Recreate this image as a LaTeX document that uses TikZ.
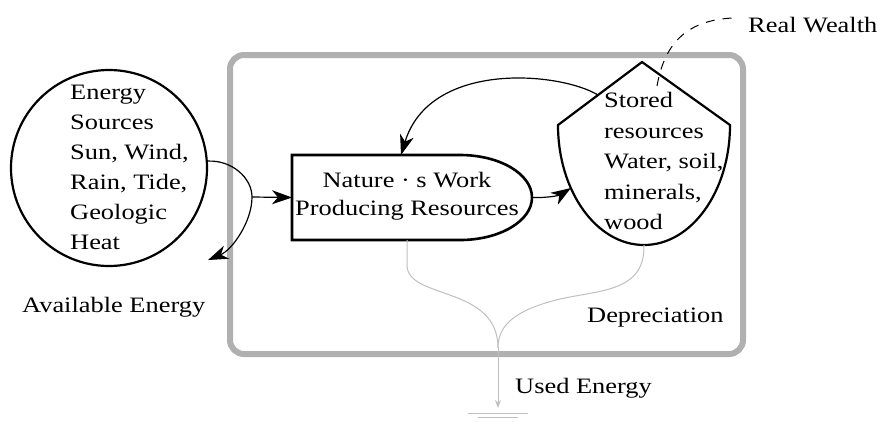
\documentclass[tikz,border=0pt]{standalone}
\usepackage{fontspec}
\setmainfont[FakeStretch=1.2]{Liberation Serif}
\usetikzlibrary{arrows.meta}
\begin{document}
\begin{tikzpicture}[x=1pt,y=-1pt,
  txt/.style={font=\fontsize{22}{30}\selectfont, inner sep=0pt},
  shapeline/.style={draw=black, line width=2.2pt},
  flow/.style={draw=black, line width=1.2pt, -{Stealth[length=20pt,width=14pt,inset=6pt]}},
  sinkflow/.style={draw=gray!50, line width=1pt},
  framebox/.style={draw=gray!62, line width=6pt, rounded corners=14pt, inner sep=0pt},
  holder/.style={inner sep=0pt, outer sep=0pt}
]
\useasboundingbox (0,0) rectangle (878,421);
% system frame
\node[framebox, minimum width=513pt, minimum height=299pt] (sys) at (486.5,204.5) {};
% energy source
\node[circle, shapeline, minimum size=196pt, inner sep=0pt] (src) at (109,168) {};
\node[txt, anchor=west, align=left] (srctxt) at (70,167) {Energy\\Sources\\Sun, Wind,\\Rain, Tide,\\Geologic\\Heat};
% producer
\node[holder, minimum width=240pt, minimum height=85pt] (work) at (412,197.5) {};
\draw[shapeline, line width=2.6pt] (292,155) -- (292,240) -- (460,240)
  arc[start angle=90, end angle=-90, x radius=72, y radius=42.5] -- cycle;
\node[txt, align=center, font=\fontsize{22}{28}\selectfont] (worktxt) at (407,196) {Nature · s Work\\Producing Resources};
% storage
\node[holder, minimum width=172pt, minimum height=183pt] (store) at (644,153.5) {};
\draw[shapeline] (558,125) -- (642,62) -- (730,125)
  arc[start angle=0, end angle=180, x radius=86, y radius=120] -- cycle;
\node[txt, anchor=west, align=left, font=\fontsize{22}{30.5}\selectfont] (storetxt) at (604,161) {Stored\\resources\\Water, soil,\\minerals,\\wood};
% labels
\node[txt, anchor=west] (avail) at (22,307) {Available Energy};
\node[txt, anchor=west] (wealth) at (748,25) {Real Wealth};
\node[txt, anchor=west] (depr) at (587,318) {Depreciation};
\node[txt, anchor=west] (used) at (515,388) {Used Energy};
% connector points
\coordinate (split) at (252,197);
\coordinate (availtip) at (208,260);
\coordinate (storein) at (571,188);
\coordinate (storeout) at (598,95);
\coordinate (workin) at (401,155);
\coordinate (storetop) at (657,86);
\coordinate (wealthend) at (733,18);
\coordinate (workout) at (407,240);
\coordinate (sink) at (498,348);
\coordinate (ground) at (498,413);
% flows
\draw[flow] (src.4) .. controls (232,160) and (252,178) .. (split)
  .. controls (252,222) and (232,250) .. (availtip);
\draw[flow] (split) -- (work.west);
\draw[flow] (work.east) .. controls (550,198) and (560,195) .. (storein);
\draw[flow] (storeout) .. controls (560,72) and (430,60) .. (workin);
\draw[line width=1pt, dash pattern=on 9pt off 8pt] (storetop) .. controls (665,40) and (690,20) .. (wealthend);
% depreciation
\draw[sinkflow] (workout) -- (407,265) .. controls (407,300) and (498,285) .. (sink);
\draw[sinkflow] (store.south) .. controls (645,292) and (600,290) .. (560,299)
  .. controls (515,310) and (498,325) .. (sink);
\draw[sinkflow, -{Stealth[length=8pt,width=6pt]}, shorten >=5pt] (sink) -- (ground);
\draw[sinkflow] ([xshift=-30pt]ground) -- ([xshift=30pt]ground);
\draw[sinkflow] ([xshift=-20pt,yshift=-4.5pt]ground) -- ([xshift=20pt,yshift=-4.5pt]ground);
\end{tikzpicture}
\end{document}
